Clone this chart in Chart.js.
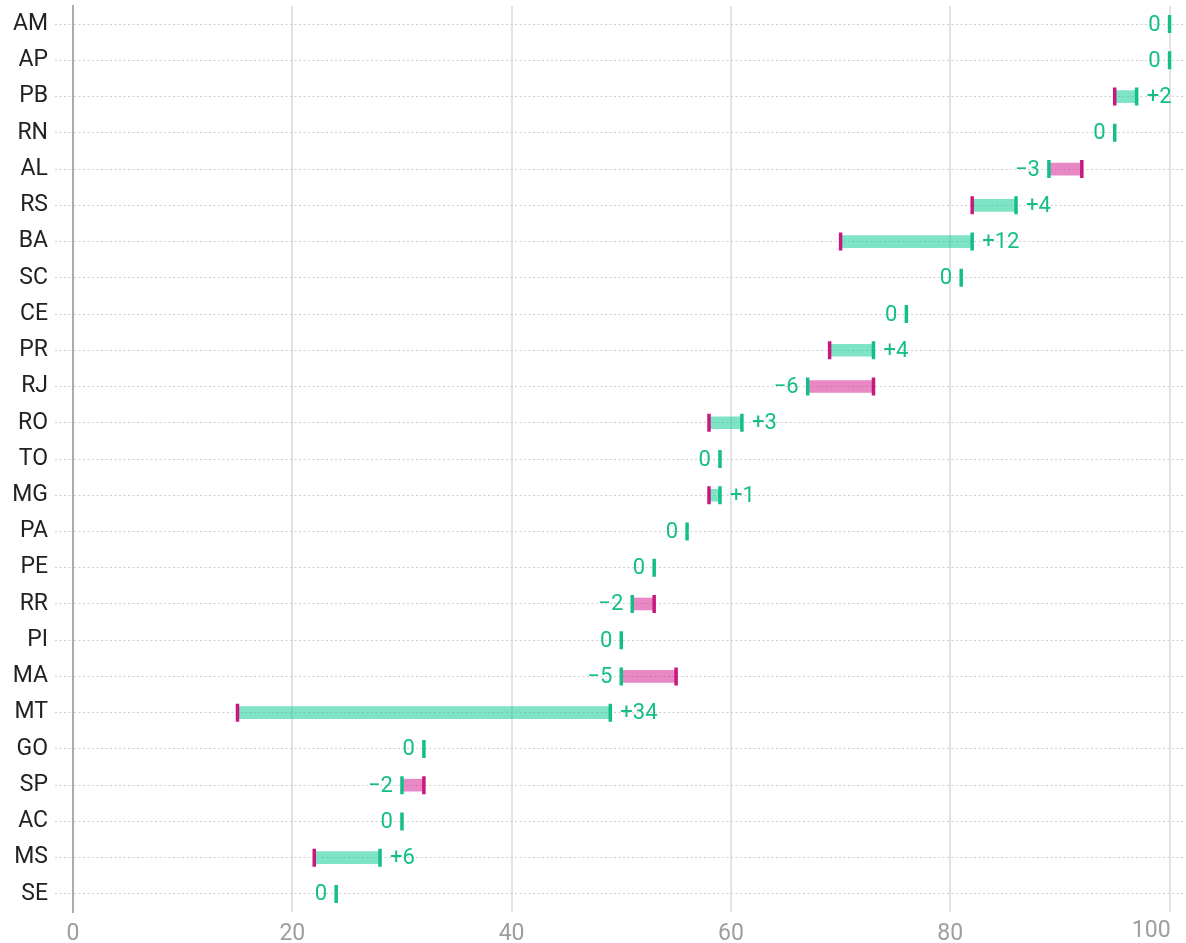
<!DOCTYPE html>
<html>
<head>
<meta charset="utf-8">
<script src="https://cdn.jsdelivr.net/npm/chart.js@4/dist/chart.umd.min.js"></script>
<style>
  html, body { margin: 0; padding: 0; background: #fff; }
  #wrap { width: 1186px; height: 943px; }
</style>
</head>
<body>
<div id="wrap"><canvas id="chart"></canvas></div>
<script>
// states, top to bottom
const states = ['AM', 'AP', 'PB', 'RN', 'AL', 'RS', 'BA', 'SC', 'CE', 'PR', 'RJ', 'RO', 'TO',
  'MG', 'PA', 'PE', 'RR', 'PI', 'MA', 'MT', 'GO', 'SP', 'AC', 'MS', 'SE'];
// previous value (magenta mark)
const before = [100, 100, 95, 95, 92, 82, 70, 81, 76, 69, 73, 58, 59,
  58, 56, 53, 53, 50, 55, 15, 32, 32, 30, 22, 24];
// current value (green mark)
const after = [100, 100, 97, 95, 89, 86, 82, 81, 76, 73, 67, 61, 59,
  59, 56, 53, 51, 50, 50, 49, 32, 30, 30, 28, 24];
const xTicks = [0, 20, 40, 60, 80, 100];

const GREEN = '#14be88';
const MAGENTA = '#c8187e';
const TICK_GREY = '#9e9e9e';

const change = after.map((v, i) => v - before[i]);
const fmt = d => d > 0 ? '+' + d : d < 0 ? '\u2212' + Math.abs(d) : '0';

// change labels next to the green mark, plus the last x tick label (right aligned)
const changeLabels = {
  id: 'changeLabels',
  afterDatasetsDraw(chart) {
    const { ctx, scales: { x, y } } = chart;
    ctx.save();
    ctx.font = '22px Roboto';
    ctx.fillStyle = GREEN;
    ctx.textBaseline = 'middle';
    states.forEach((s, i) => {
      const px = x.getPixelForValue(after[i]);
      const py = y.getPixelForValue(i);
      if (change[i] > 0) {
        ctx.textAlign = 'left';
        ctx.fillText(fmt(change[i]), px + 10, py + 1);
      } else {
        ctx.textAlign = 'right';
        ctx.fillText(fmt(change[i]), px - 9, py + 1);
      }
    });
    const last = xTicks[xTicks.length - 1];
    ctx.font = '23px Roboto';
    ctx.fillStyle = TICK_GREY;
    ctx.textAlign = 'right';
    ctx.fillText(String(last), x.getPixelForValue(last) + 1, x.top + 19);
    ctx.restore();
  }
};

new Chart(document.getElementById('chart'), {
  type: 'bar',
  data: {
    labels: states,
    datasets: [
      {
        type: 'scatter',
        data: states.map((s, i) => ({ x: after[i], y: s })),
        pointStyle: 'line',
        rotation: 90,
        radius: 9,
        hoverRadius: 9,
        borderWidth: 3.5,
        borderColor: GREEN,
        order: 0
      },
      {
        type: 'scatter',
        data: states.map((s, i) => ({ x: change[i] !== 0 ? before[i] : null, y: s })),
        pointStyle: 'line',
        rotation: 90,
        radius: 9,
        hoverRadius: 9,
        borderWidth: 3.5,
        borderColor: MAGENTA,
        order: 1
      },
      {
        data: states.map((s, i) => [before[i], after[i]]),
        backgroundColor: change.map(d => d >= 0 ? 'rgba(20, 205, 150, 0.55)' : 'rgba(214, 40, 150, 0.55)'),
        barThickness: 12,
        borderSkipped: false,
        order: 2
      }
    ]
  },
  options: {
    indexAxis: 'y',
    responsive: true,
    maintainAspectRatio: false,
    animation: false,
    layout: { autoPadding: false, padding: { top: 6, right: 0, bottom: 0, left: 0 } },
    plugins: {
      legend: { display: false },
      tooltip: { enabled: false }
    },
    scales: {
      x: {
        type: 'linear',
        min: 0,
        max: 101.5,
        afterBuildTicks: s => { s.ticks = xTicks.map(v => ({ value: v })); },
        afterFit: s => { s.height = 31; s.paddingLeft = 0; s.paddingRight = 0; },
        border: { display: false },
        grid: { color: '#e3e3e3', lineWidth: 2, drawTicks: false },
        ticks: {
          padding: 8,
          color: c => c.tick && c.tick.value === 100 ? 'rgba(0,0,0,0)' : TICK_GREY,
          font: { family: 'Roboto', size: 23 }
        }
      },
      y: {
        type: 'category',
        offset: true,
        afterFit: s => { s.width = 73; s.paddingTop = 0; s.paddingBottom = 0; },
        border: { display: true, color: '#ababab', width: 2, dash: [2, 2.5] },
        grid: {
          offset: false,
          color: '#cfcfcf',
          lineWidth: 1,
          tickLength: 18,
          tickColor: '#cfcfcf',
          tickBorderDash: [2, 2.5]
        },
        ticks: {
          padding: 7,
          color: '#222',
          font: { family: 'Roboto', size: 23 }
        }
      }
    }
  },
  plugins: [changeLabels]
});
</script>
</body>
</html>
